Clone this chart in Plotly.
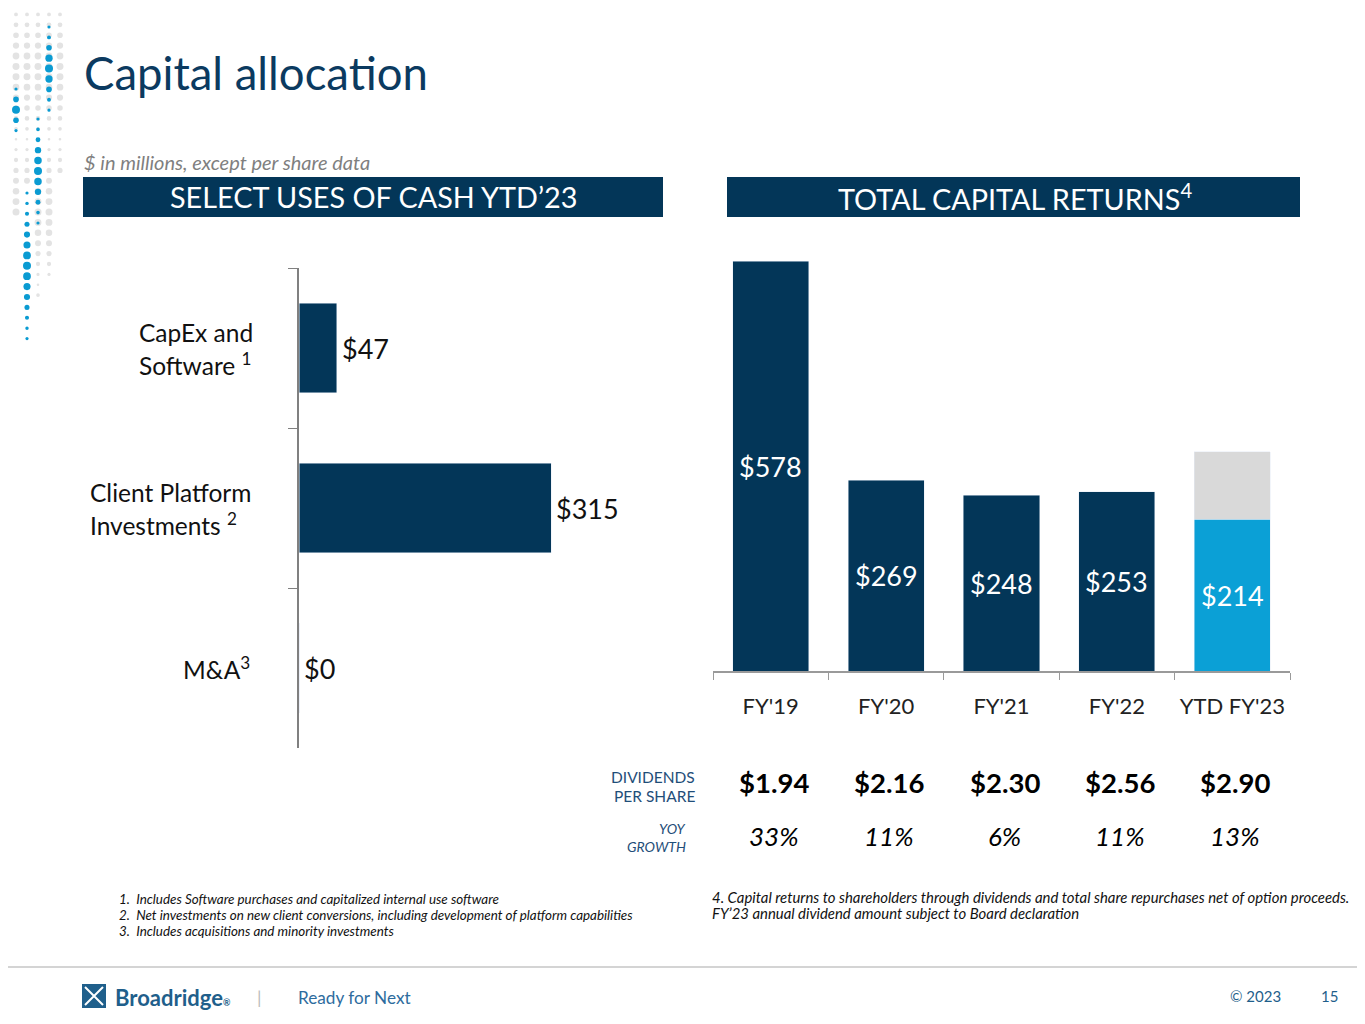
import math
import plotly.graph_objects as go

# ---- data ----
uses_keys = ["CapEx and Software", "Client Platform Investments", "M&A"]
uses_lines = [["CapEx and", "Software <sup>1</sup>"],
              ["Client Platform", "Investments <sup>2</sup>"],
              ["M&A<sup>3</sup>"]]
uses_values = [47, 315, 0]

years = ["FY'19", "FY'20", "FY'21", "FY'22", "YTD FY'23"]
capital_returns = [578, 269, 248, 253, 214]
remaining_fy23 = [None, None, None, None, 95]

dividends = ["$1.94", "$2.16", "$2.30", "$2.56", "$2.90"]
yoy_growth = ["33%", "11%", "6%", "11%", "13%"]

footnotes_left = [
    "1.  Includes Software purchases and capitalized internal use software",
    "2.  Net investments on new client conversions, including development of platform capabilities",
    "3.  Includes acquisitions and minority investments",
]
footnotes_right = [
    "4. Capital returns to shareholders through dividends and total share repurchases net of option proceeds.",
    "FY\u201923 annual dividend amount subject to Board declaration",
]

# page body adds an 8px margin, so the figure is drawn 8px in and positions are shifted back
OFF = 8
W, H = 1365 - 2 * OFF, 1024 - 2 * OFF
NAVY = "#033658"
LIGHT_BLUE = "#0BA0D6"
GREY_BAR = "#D9D9D9"
FONT = "Lato"


def px(x):
    return (x - OFF) / W


def py(y):
    return 1 - (y - OFF) / H


right_dom = [px(713), px(1290)]

fig = go.Figure()

# left: select uses of cash
fig.add_trace(go.Bar(
    x=uses_values, y=uses_keys, orientation="h",
    marker_color=NAVY, width=0.56,
    xaxis="x", yaxis="y", showlegend=False,
))

# right: total capital returns
bar_colors = [NAVY, NAVY, NAVY, NAVY, LIGHT_BLUE]
fig.add_trace(go.Bar(
    x=years, y=capital_returns, marker_color=bar_colors, width=0.66,
    xaxis="x2", yaxis="y2", showlegend=False,
))
fig.add_trace(go.Bar(
    x=years, y=remaining_fy23, marker_color=GREY_BAR, width=0.66,
    xaxis="x2", yaxis="y2", showlegend=False, hoverinfo="skip",
))

fig.update_layout(
    width=W, height=H, margin=dict(l=0, r=0, t=0, b=0),
    paper_bgcolor="white", plot_bgcolor="white",
    barmode="stack",
    font=dict(family=FONT, color="#111111"),
    xaxis=dict(domain=[px(299), px(639)], range=[0, 425], visible=False),
    yaxis=dict(domain=[py(748), py(268)], type="category",
               categoryorder="array", categoryarray=uses_keys,
               range=[2.5, -0.5], showline=True, linecolor="#808080", linewidth=1.5,
               ticks="outside", tickson="boundaries", ticklen=9, tickcolor="#808080",
               showticklabels=False, showgrid=False, zeroline=False),
    xaxis2=dict(domain=right_dom, type="category", anchor="y2",
                showline=True, linecolor="#9a9a9a", linewidth=1.5,
                ticks="outside", tickson="boundaries", ticklen=7, tickcolor="#9a9a9a",
                tickfont=dict(size=22, color="#222222", family=FONT),
                ticklabelstandoff=15, showgrid=False),
    yaxis2=dict(domain=[py(671), py(245.4)], range=[0, 600], anchor="x2",
                visible=False, showgrid=False),
)

# header bars
shapes = [
    dict(type="rect", xref="paper", yref="paper", x0=px(83), x1=px(663), y0=py(217), y1=py(177),
         fillcolor=NAVY, line_width=0),
    dict(type="rect", xref="paper", yref="paper", x0=px(727), x1=px(1300), y0=py(217), y1=py(177),
         fillcolor=NAVY, line_width=0),
    dict(type="line", xref="paper", yref="paper", x0=0, x1=1, y0=py(967), y1=py(967),
         line=dict(color="#D4D4D4", width=2)),
    # logo block
    dict(type="rect", xref="paper", yref="paper", x0=px(82), x1=px(106), y0=py(1008), y1=py(984),
         fillcolor="#1F5F8B", line_width=0),
    dict(type="path", xref="paper", yref="paper",
         path=f"M {px(85)} {py(987)} Q {px(94)} {py(996)} {px(103)} {py(1005)} "
              f"M {px(103)} {py(987)} Q {px(94)} {py(996)} {px(85)} {py(1005)}",
         line=dict(color="white", width=2)),
]

# decorative dot pattern on the left edge
dot_cols = [16, 27, 38, 49, 60]
blue_runs = {16: (89, 130), 27: (193, 341), 38: (119, 226), 49: (27, 110)}
grey_runs = {16: (4, 220), 27: (4, 190), 38: (4, 300), 49: (4, 280), 60: (4, 180)}
for cx in dot_cols:
    gy0, gy1 = grey_runs[cx]
    y = gy0
    while y <= gy1:
        r = 1.2 + 2.3 * abs(math.sin(y / 45.0))
        shapes.append(dict(type="circle", xref="paper", yref="paper",
                           x0=px(cx - r), x1=px(cx + r), y0=py(y + r), y1=py(y - r),
                           fillcolor="#E3E3E3", line_width=0))
        y += 10.4
    if cx in blue_runs:
        by0, by1 = blue_runs[cx]
        n = int(round((by1 - by0) / 10.4))
        for i in range(n + 1):
            y = by0 + i * 10.4
            t = i / max(n, 1)
            r = 1.6 + 2.4 * math.sin(math.pi * t) ** 2
            shapes.append(dict(type="circle", xref="paper", yref="paper",
                               x0=px(cx - r), x1=px(cx + r), y0=py(y + r), y1=py(y - r),
                               fillcolor="#0A9BD2", line_width=0))
fig.update_layout(shapes=shapes)

ann = []


def text(x, y, s, size, color="#111111", xanchor="left", italic=False, bold=False,
         raw_x=False, **kw):
    if bold:
        s = f"<b>{s}</b>"
    if italic:
        s = f"<i>{s}</i>"
    ann.append(dict(x=x if raw_x else px(x), y=py(y), xref="paper", yref="paper",
                    text=s, showarrow=False, xanchor=xanchor, yanchor="middle",
                    font=dict(size=size, color=color, family=FONT), **kw))


text(82, 72, "Capital allocation", 45.5, color="#0B3A60")
text(82, 162, "$ in millions, except per share data", 20, color="#7F7F7F", italic=True)
text(373, 197, "SELECT USES OF CASH YTD\u201923", 28.8, color="white", xanchor="center")
text(1015, 197, "TOTAL CAPITAL RETURNS<sup>4</sup>", 28.8, color="white", xanchor="center")

# left category labels (left-aligned blocks, one annotation per line) and bar-end values
label_left = {"CapEx and Software": 137, "Client Platform Investments": 88}
for key, lines, v in zip(uses_keys, uses_lines, uses_values):
    if len(lines) == 1:
        ann.append(dict(x=px(252), y=key, xref="paper", yref="y", text=lines[0], showarrow=False,
                        xanchor="right", yanchor="middle",
                        font=dict(size=24.5, color="#111111", family=FONT)))
    else:
        for j, line in enumerate(lines):
            ann.append(dict(x=px(label_left[key]), y=key, xref="paper", yref="y", text=line,
                            showarrow=False, xanchor="left", yanchor="middle",
                            yshift=16 - 32 * j,
                            font=dict(size=24.5, color="#111111", family=FONT)))
    ann.append(dict(x=v, y=key, xref="x", yref="y", text=f"${v}", showarrow=False,
                    xanchor="left", yanchor="middle", xshift=3,
                    font=dict(size=27, color="#111111", family=FONT)))

# value labels inside the capital-return bars
for yr, v in zip(years, capital_returns):
    ann.append(dict(x=yr, y=v / 2, xref="x2", yref="y2", text=f"${v}", showarrow=False,
                    xanchor="center", yanchor="middle",
                    font=dict(size=27, color="white", family=FONT)))

# dividends & growth rows, centred under each year's category slot
text(697, 777, "DIVIDENDS", 15.5, color="#1F4E79", xanchor="right")
text(697, 796, "PER SHARE", 15.5, color="#1F4E79", xanchor="right")
text(688, 828, "YOY", 14, color="#1F4E79", xanchor="right", italic=True)
text(688, 846, "GROWTH", 14, color="#1F4E79", xanchor="right", italic=True)
slot = (right_dom[1] - right_dom[0]) / len(years)
for i, (d, g) in enumerate(zip(dividends, yoy_growth)):
    cx = right_dom[0] + (i + 0.5) * slot
    text(cx, 782, d, 27.5, color="#000000", xanchor="center", bold=True, raw_x=True, xshift=3)
    text(cx, 836, g, 26, color="#000000", xanchor="center", italic=True, raw_x=True, xshift=3)

# footnotes
for i, s in enumerate(footnotes_left):
    text(117, 899 + 16 * i, s, 13.4, color="#111111", italic=True)
for i, s in enumerate(footnotes_right):
    text(710, 897 + 16 * i, s, 14.9, color="#111111", italic=True)

# footer
text(113, 997, "Broadridge<span style='font-size:9px'>\u00ae</span>", 22, color="#1F5F8B", bold=True)
text(259, 997, "|", 18, color="#BBBBBB", xanchor="center")
text(296, 997, "Ready for Next", 17.2, color="#2E6C9E")
text(1255, 996, "\u00a9 2023", 15, color="#1F5F8B", xanchor="center")
text(1329, 996, "15", 15, color="#1F5F8B", xanchor="center")

fig.update_layout(annotations=ann)

fig.write_html("out.html")
